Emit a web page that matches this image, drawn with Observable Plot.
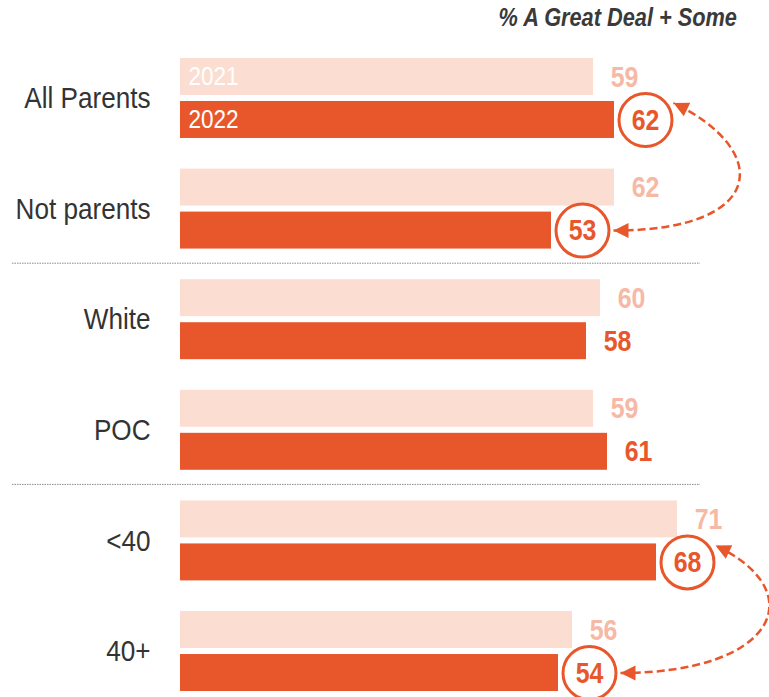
<!DOCTYPE html>
<html>
<head>
<meta charset="utf-8">
<script src="https://cdn.jsdelivr.net/npm/d3@7"></script>
<script src="https://cdn.jsdelivr.net/npm/@observablehq/plot@0.6"></script>
<style>
  html, body { margin: 0; padding: 0; background: #fff; }
  #title {
    height: 36px; line-height: 34px; text-align: right;
    width: 737px;
    font-family: "Liberation Sans", Arial, sans-serif;
    font-weight: bold; font-style: italic; font-size: 25px; color: #3a3a3a;
  }
  #title span { display: inline-block; transform: scaleX(0.87); transform-origin: 100% 50%; }
  #chart svg { display: block; }
</style>
</head>
<body>
<div id="title"><span>% A Great Deal + Some</span></div>
<div id="chart"></div>
<script>
const categories = ["All Parents", "Not parents", "White", "POC", "<40", "40+"];
const values2021 = [59, 62, 60, 59, 71, 56];
const values2022 = [62, 53, 58, 61, 68, 54];
const years = ["2021", "2022"];
const circled = ["All Parents", "Not parents", "<40", "40+"];
const comparisons = [
  {from: "Not parents", to: "All Parents"},
  {from: "40+", to: "<40"}
];
const separatorsAbove = ["White", "<40"];

const rows = categories.map((c, i) => ({cat: c, v2021: values2021[i], v2022: values2022[i]}));
const v22 = new Map(rows.map(d => [d.cat, d.v2022]));
const links = comparisons.map(d => ({x1: v22.get(d.from), y1: d.from, x2: v22.get(d.to), y2: d.to}));

const DARK = "#E8572B", LIGHT = "#FBDDD2", LIGHT_TEXT = "#F6B9A5";
const FONT = "'Liberation Sans', Arial, sans-serif";
const HALF = 21.5;   // offset from group centre to each bar centre
const LBL = 31;      // label offset to the right of bar end

// custom curve: loop from right side of lower circle to upper-right of upper circle
function loopCurve(context) {
  let pts = [];
  return {
    areaStart() {}, areaEnd() {},
    lineStart() { pts = []; },
    point(x, y) { pts.push([x, y]); },
    lineEnd() {
      const [[ax, ay], [bx, by]] = pts;
      const x0 = ax + 31, y0 = ay;
      const x3 = bx + 28, y3 = by - 17;
      context.moveTo(x0, y0);
      context.bezierCurveTo(x0 + 155, y0, x3 + 98, y3 + 47, x3, y3);
    }
  };
}
function head(orient) {
  return (color) => {
    const m = d3.create("svg:marker")
      .attr("viewBox", "-16 -8 17 16")
      .attr("markerUnits", "userSpaceOnUse")
      .attr("markerWidth", 17).attr("markerHeight", 16)
      .attr("refX", 0).attr("refY", 0)
      .attr("orient", orient);
    m.append("path").attr("d", "M0,0L-15,-7.5L-15,7.5Z").attr("fill", color).attr("stroke", "none");
    return m.node();
  };
}

const chart = Plot.plot({
  width: 769,
  height: 661,
  marginTop: 22,
  marginBottom: 6,
  marginLeft: 12,
  marginRight: 69,
  x: {domain: [0, 100], range: [180, 880], axis: null},
  y: {domain: categories, paddingInner: 0.277, paddingOuter: 0, round: false, axis: null},
  marks: [
    Plot.ruleY(separatorsAbove, {y: d => d, dy: -56.5, stroke: "#8a8a8a", strokeWidth: 1, strokeDasharray: "1.5,1"}),
    Plot.barX(rows, {y: "cat", x: "v2021", fill: LIGHT, insetBottom: 43}),
    Plot.barX(rows, {y: "cat", x: "v2022", fill: DARK, insetTop: 43}),
    Plot.text(rows.slice(0, 1), {y: "cat", x: 0, text: () => years[0], dx: 8, dy: -HALF, textAnchor: "start", fill: "white", fontSize: 26.5, fontFamily: FONT, className: "nx85"}),
    Plot.text(rows.slice(0, 1), {y: "cat", x: 0, text: () => years[1], dx: 8, dy: HALF, textAnchor: "start", fill: "white", fontSize: 26.5, fontFamily: FONT, className: "nx85"}),
    Plot.text(rows, {y: "cat", x: 0, text: "cat", dx: -30, textAnchor: "end", fill: "#333", fontSize: 30, fontFamily: FONT, className: "nx87"}),
    Plot.text(rows, {y: "cat", x: "v2021", text: d => String(d.v2021), dx: LBL, dy: -HALF, textAnchor: "middle", fill: LIGHT_TEXT, fontSize: 30, fontWeight: "bold", fontFamily: FONT, className: "nx83"}),
    Plot.link(links, {x1: "x1", y1: "y1", x2: "x2", y2: "y2", dx: LBL, dy: HALF, curve: loopCurve, stroke: DARK, strokeWidth: 2.5, strokeDasharray: "8,4", markerStart: head("auto-start-reverse"), markerEnd: head("auto")}),
    Plot.dot(rows.filter(d => circled.includes(d.cat)), {y: "cat", x: "v2022", dx: LBL, dy: HALF, r: 26.5, stroke: DARK, strokeWidth: 3, fill: "white"}),
    Plot.text(rows, {y: "cat", x: "v2022", text: d => String(d.v2022), dx: LBL, dy: HALF, textAnchor: "middle", fill: DARK, fontSize: 30, fontWeight: "bold", fontFamily: FONT, className: "nx83"})
  ]
});
document.getElementById("chart").appendChild(chart);

// condense the text horizontally (the original uses a narrow typeface)
[["nx85", 0.85], ["nx87", 0.87], ["nx83", 0.83]].forEach(([cls, k]) => {
  chart.querySelectorAll(`.${cls} text`).forEach(t => {
    const w = t.getComputedTextLength();
    t.setAttribute("textLength", (w * k).toFixed(2));
    t.setAttribute("lengthAdjust", "spacingAndGlyphs");
  });
});
</script>
</body>
</html>
